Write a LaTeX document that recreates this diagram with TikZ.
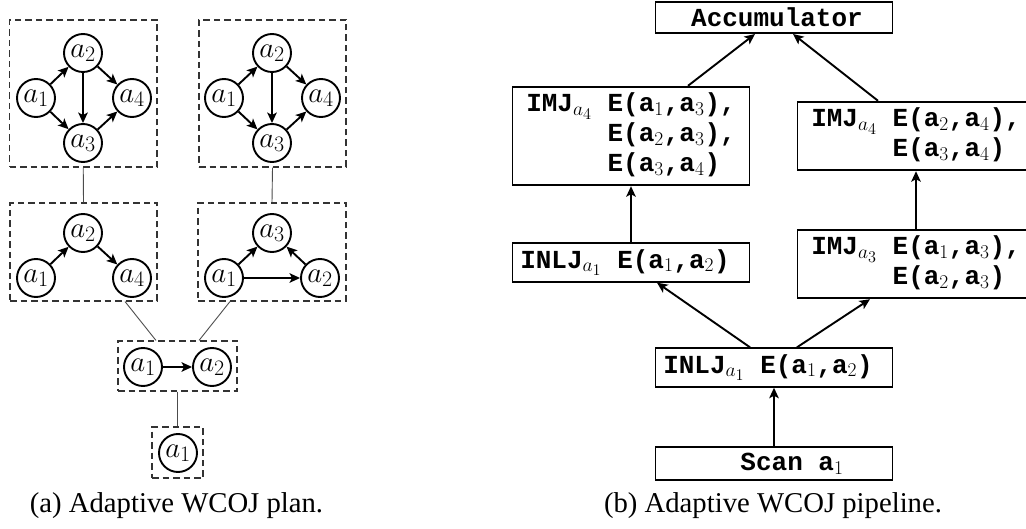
\RequirePackage{fix-cm}
\documentclass[tikz,border=0pt]{standalone}
\usepackage[no-math]{fontspec}
\setmainfont{Liberation Serif}
\setmonofont{Liberation Mono}
\usetikzlibrary{arrows.meta,calc}

% larger script sizes for the subscripts
\DeclareMathSizes{26}{26}{19.5}{16.25}
\DeclareMathSizes{29}{29}{22}{18}

% bold monospaced face for the operator boxes
\newcommand{\pipefont}{\ttfamily\bfseries\fontsize{26}{30}\selectfont}

\tikzset{
  vtx/.style={circle, draw, line width=1.9pt, minimum size=38pt, inner sep=0pt,
              font=\fontsize{29}{34}\selectfont},
  arr/.style={-{Stealth[length=10.5pt,width=9.5pt,inset=2.5pt]}, line width=1.9pt},
  grp/.style={draw=black!80, dash pattern=on 6.5pt off 4pt, line width=1.1pt, inner sep=0pt},
  link/.style={draw=black!70, line width=0.9pt},
  op/.style={draw, line width=1.9pt, minimum width=237pt, inner xsep=4pt, inner ysep=6pt,
             font=\pipefont, align=left},
  captext/.style={font=\fontsize{28.7}{33}\selectfont, anchor=base},
}

\begin{document}
\begin{tikzpicture}[x=1pt, y=-1pt]
\useasboundingbox (0,0) rectangle (1026,529);

% ---------------- plan: groups of attributes ----------------
\node[grp, minimum width=147.5pt, minimum height=147pt] (g1) at (83.25,93.5) {};
\node[grp, minimum width=147pt, minimum height=147pt] (g2) at (272.5,93.5) {};
\node[grp, minimum width=147pt, minimum height=98pt] (g3) at (83.5,252) {};
\node[grp, minimum width=148pt, minimum height=98pt] (g4) at (272,252) {};
\node[grp, minimum width=119pt, minimum height=50pt] (g5) at (177.5,366) {};
\node[grp, minimum width=51pt, minimum height=51pt] (g6) at (177.5,452.5) {};

% first group
\node[vtx] (g1a2) at (83,53) {$a_2$};
\node[vtx] (g1a1) at (36,98) {$a_1$};
\node[vtx] (g1a4) at (132,98) {$a_4$};
\node[vtx] (g1a3) at (83,143) {$a_3$};
\draw[arr] (g1a1) -- (g1a2);
\draw[arr] (g1a1) -- (g1a3);
\draw[arr] (g1a2) -- (g1a3);
\draw[arr] (g1a2) -- (g1a4);
\draw[arr] (g1a3) -- (g1a4);

% second group
\node[vtx] (g2a2) at (272,53) {$a_2$};
\node[vtx] (g2a1) at (224,98) {$a_1$};
\node[vtx] (g2a4) at (321,98) {$a_4$};
\node[vtx] (g2a3) at (272,143) {$a_3$};
\draw[arr] (g2a1) -- (g2a2);
\draw[arr] (g2a1) -- (g2a3);
\draw[arr] (g2a2) -- (g2a3);
\draw[arr] (g2a2) -- (g2a4);
\draw[arr] (g2a3) -- (g2a4);

% third group
\node[vtx] (g3a2) at (83,233) {$a_2$};
\node[vtx] (g3a1) at (36,278) {$a_1$};
\node[vtx] (g3a4) at (132,278) {$a_4$};
\draw[arr] (g3a1) -- (g3a2);
\draw[arr] (g3a2) -- (g3a4);

% fourth group
\node[vtx] (g4a3) at (272,233) {$a_3$};
\node[vtx] (g4a1) at (224,278) {$a_1$};
\node[vtx] (g4a2) at (320,278) {$a_2$};
\draw[arr] (g4a1) -- (g4a3);
\draw[arr] (g4a2) -- (g4a3);
\draw[arr] (g4a1) -- (g4a2);

% fifth group
\node[vtx] (g5a1) at (143,367) {$a_1$};
\node[vtx] (g5a2) at (212,367) {$a_2$};
\draw[arr] (g5a1) -- (g5a2);

% sixth group
\node[vtx] (g6a1) at (178,453) {$a_1$};

% links between groups
\draw[link] (g1.south) -- (g3.north);
\draw[link] (g2.south) -- (g4.north);
\draw[link] ([xshift=41.5pt]g3.south) -- ([xshift=-21.5pt]g5.north);
\draw[link] ([xshift=-42pt]g4.south) -- ([xshift=21.5pt]g5.north);
\draw[link] (g5.south) -- (g6.north);

% ---------------- pipeline operators ----------------
\node[op] (acc) at (774,17.5) {\kern6pt Accumulator};
\node[op] (imjl) at (631,136)
  {IMJ$_{a_4}$ E(a$_1$,a$_3$),\\\phantom{IMJ$_{a_4}$ }E(a$_2$,a$_3$),\\\phantom{IMJ$_{a_4}$ }E(a$_3$,a$_4$)};
\node[op] (imjr) at (916,136)
  {IMJ$_{a_4}$ E(a$_2$,a$_4$),\\\phantom{IMJ$_{a_4}$ }E(a$_3$,a$_4$)};
\node[op] (inljl) at (631,262.5) {INLJ$_{a_1}$ E(a$_1$,a$_2$)\kern12pt};
\node[op] (imja3) at (916,264)
  {IMJ$_{a_3}$ E(a$_1$,a$_3$),\\\phantom{IMJ$_{a_3}$ }E(a$_2$,a$_3$)};
\node[op] (inljm) at (774,367.5) {INLJ$_{a_1}$ E(a$_1$,a$_2$)\kern12pt};
\node[op] (scan) at (774,463.5) {\kern36pt Scan a$_1$};

\draw[arr] ([xshift=57pt]imjl.north) -- ([xshift=-19pt]acc.south);
\draw[arr] ([xshift=-38pt]imjr.north) -- ([xshift=19pt]acc.south);
\draw[arr] (inljl.north) -- (imjl.south);
\draw[arr] (imja3.north) -- (imjr.south);
\draw[arr] ([xshift=-24pt]inljm.north) -- ([xshift=26pt]inljl.south);
\draw[arr] ([xshift=23pt]inljm.north) -- ([xshift=-46pt]imja3.south);
\draw[arr] (scan.north) -- (inljm.south);

% ---------------- captions ----------------
\node[captext] (capa) at (176.5,512) {(a) Adaptive WCOJ plan.};
\node[captext] (capb) at (773,512) {(b) Adaptive WCOJ pipeline.};
\end{tikzpicture}
\end{document}
